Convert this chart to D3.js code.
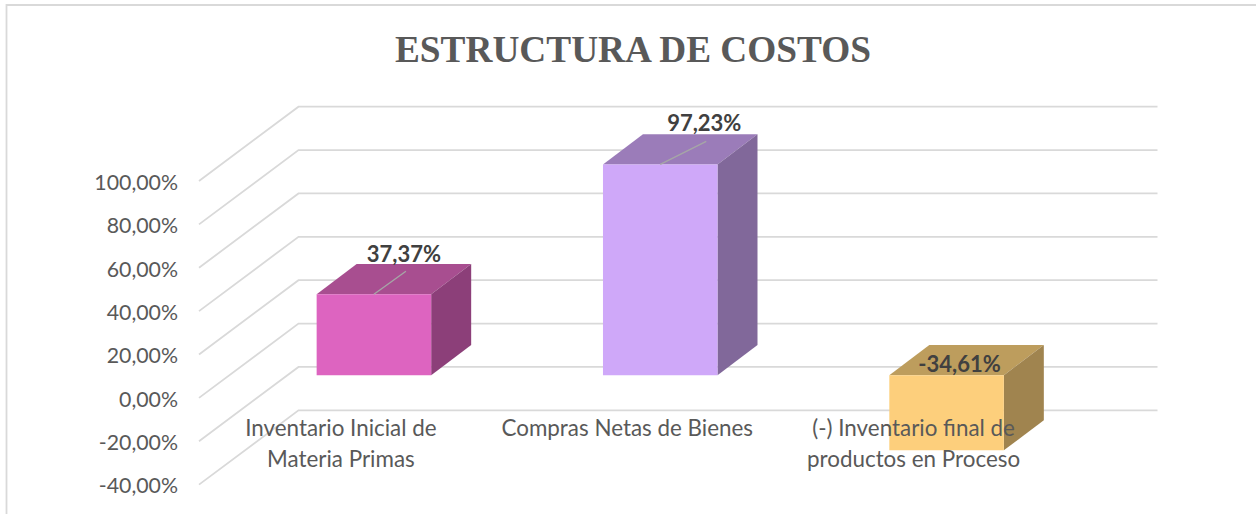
<!DOCTYPE html>
<html>
<head>
<meta charset="utf-8">
<script src="https://cdn.jsdelivr.net/npm/d3@7"></script>
<style>
  html, body { margin: 0; padding: 0; background: #fff; overflow: hidden; }
  svg { display: block; }
</style>
</head>
<body>
<div id="chart"></div>
<script>
const chartTitle = "ESTRUCTURA DE COSTOS";
const categories = ["Inventario Inicial de|Materia Primas", "Compras Netas de Bienes", "(-) Inventario final de|productos en Proceso"];
const values = [37.37, 97.23, -34.61];
const tickValues = [-40, -20, 0, 20, 40, 60, 80, 100];
const frontColors = ["#dd64c0", "#cfa8f9", "#fdcf7c"];
const topColors = ["#a84e90", "#9b7cb9", "#bd9d5d"];
const sideColors = ["#8c3f79", "#81689a", "#a0844f"];

const width = 1256;
const height = 514;

// 3D box: how far the back wall sits from the front edge of the floor
const wallDx = 98.5;
const wallDy = -74.3;
const barStart = 0.304;   // bars start this far into the floor depth
const barEnd = 0.71;

const svg = d3.select("#chart").append("svg")
  .attr("width", width)
  .attr("height", height);

const x = d3.scaleBand().domain(d3.range(values.length)).range([200.8, 1059.8]).paddingInner(0.6).paddingOuter(0.3);
const y = d3.scaleLinear().domain([-40, 100]).range([484.6, 181]);

// move a front plane point back by depth d
function project(px, py, d) {
  return [px + wallDx * d, py + wallDy * d];
}
const line = d3.line();
const poly = pts => line(pts) + "Z";

// chart border, only left and top are in the picture
svg.append("path")
  .attr("d", line([[6.5, height], [6.5, 5], [width, 5]]))
  .attr("fill", "none")
  .attr("stroke", "#d9d9d9")
  .attr("stroke-width", 1.8);

svg.append("text")
  .attr("x", 633)
  .attr("y", 62)
  .attr("text-anchor", "middle")
  .style("font-family", "'Liberation Serif'")
  .style("font-weight", "bold")
  .style("font-size", "37.3px")
  .style("fill", "#595959")
  .text(chartTitle);

// gridlines: side wall + back wall
svg.append("g").selectAll("path")
  .data(tickValues)
  .enter()
  .append("path")
    .attr("fill", "none")
    .attr("stroke", "#d9d9d9")
    .attr("stroke-width", 1.8)
    .attr("d", function(d){
      const back = project(200, y(d), 1);
      return line([[199, y(d)], back, [back[0] + 859, back[1]]]);
    });

const fmt = d3.formatLocale({decimal: ",", thousands: ".", grouping: [3], currency: ["", ""], minus: "-"}).format(".2f");

// value axis
const yAxis = svg.append("g")
  .attr("transform", "translate(184,1.5)")
  .call(d3.axisLeft(y).tickValues(tickValues).tickSize(0).tickPadding(6).tickFormat(d => fmt(d) + "%"));
yAxis.select(".domain").remove();
yAxis.selectAll("text")
  .style("font-family", "Lato")
  .style("font-size", "21.3px")
  .style("fill", "#595959");

// bars
const bars = svg.append("g").selectAll("g")
  .data(values)
  .enter()
  .append("g");

bars.each(function(v, i){
  const g = d3.select(this);
  const x0 = x(i), x1 = x(i) + x.bandwidth();
  const top = Math.max(v, 0), bottom = Math.min(v, 0);
  const a = project(x0, y(top), barStart), b = project(x1, y(top), barStart);
  const c = project(x1, y(bottom), barStart), e = project(x0, y(bottom), barStart);
  const a2 = project(x0, y(top), barEnd), b2 = project(x1, y(top), barEnd);
  const c2 = project(x1, y(bottom), barEnd);
  g.append("path").attr("d", poly([a, b, b2, a2])).attr("fill", topColors[i]);
  g.append("path").attr("d", poly([b, c, c2, b2])).attr("fill", sideColors[i]);
  g.append("path").attr("d", poly([a, b, c, e])).attr("fill", frontColors[i]);
});

// leader lines go from the top of the bar to its label, the negative bar has none
const leaderDx = [32, 46, 0];
const labelDx = [30, 44, 13];
const labelDy = [-32, -33, -3];

bars.filter(d => d > 0).append("path")
  .attr("fill", "none")
  .attr("stroke", "#a6a6a6")
  .attr("stroke-width", 1.4)
  .attr("d", function(v){
    const i = values.indexOf(v);
    const p = project(x(i) + x.bandwidth() / 2, y(v), barStart);
    return line([p, [p[0] + leaderDx[i], p[1] - 23]]);
  });

// value labels
bars.append("text")
  .attr("text-anchor", "middle")
  .attr("x", (v, i) => project(x(i) + x.bandwidth() / 2, y(Math.max(v, 0)), barStart)[0] + labelDx[i])
  .attr("y", (v, i) => project(x(i), y(Math.max(v, 0)), barStart)[1] + labelDy[i])
  .style("font-family", "Lato")
  .style("font-weight", "bold")
  .style("font-size", "22px")
  .style("fill", "#404040")
  .text(v => fmt(v) + "%");

// category labels sit on top of the bars
const catLabels = svg.append("g").selectAll("text")
  .data(categories)
  .enter()
  .append("text")
    .attr("text-anchor", "middle")
    .style("font-family", "Lato")
    .style("font-size", "22.4px")
    .style("fill", "#595959");

catLabels.selectAll("tspan")
  .data((d, i) => d.split("|").map(t => ({t: t, i: i})))
  .enter()
  .append("tspan")
    .attr("x", d => project(x(d.i) + x.bandwidth() / 2, 0, barStart)[0] - 33)
    .attr("y", (d, j) => 436 + j * 31)
    .text(d => d.t);
</script>
</body>
</html>
